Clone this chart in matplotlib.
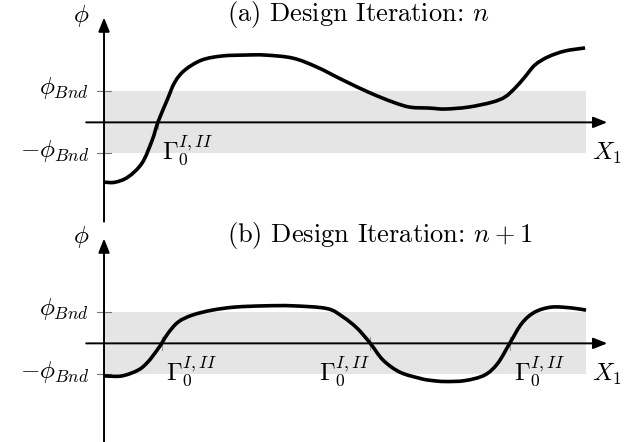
import matplotlib
matplotlib.use('Agg')
import matplotlib.pyplot as plt
from matplotlib.path import Path
from matplotlib.patches import PathPatch
import numpy as np

plt.rcParams['font.family'] = 'cmr10'
plt.rcParams['mathtext.fontset'] = 'cm'

# level-set function phi along X1 (phi in units of phi_Bnd)
x_n = [0.002, 0.023, 0.050, 0.079, 0.100, 0.112, 0.131, 0.147, 0.168, 0.203,
       0.245, 0.293, 0.334, 0.392, 0.442, 0.496, 0.552, 0.600, 0.635, 0.676,
       0.707, 0.755, 0.805, 0.832, 0.853, 0.873, 0.894, 0.921, 0.956, 0.998]
phi_n = [-1.93, -1.93, -1.76, -1.31, -0.57, 0.01, 0.72, 1.30, 1.69, 2.01,
         2.14, 2.17, 2.17, 2.07, 1.78, 1.36, 0.95, 0.65, 0.49, 0.46,
         0.43, 0.49, 0.65, 0.82, 1.11, 1.46, 1.85, 2.11, 2.30, 2.40]

x_n1 = [0.002, 0.037, 0.071, 0.091, 0.110, 0.120, 0.133, 0.154, 0.183, 0.224,
        0.272, 0.334, 0.392, 0.463, 0.496, 0.525, 0.552, 0.579, 0.614, 0.656,
        0.676, 0.707, 0.749, 0.790, 0.817, 0.842, 0.867, 0.894, 0.929, 0.971, 1.0]
phi_n1 = [-1.05, -1.05, -0.86, -0.60, -0.22, 0.01, 0.33, 0.69, 0.91, 1.07,
          1.17, 1.21, 1.21, 1.12, 0.85, 0.49, 0.01, -0.54, -0.93, -1.13,
          -1.19, -1.23, -1.20, -1.02, -0.64, 0.01, 0.65, 1.01, 1.17, 1.14, 1.07]

# zero crossings (Gamma_0^{I,II}) and label alignment
cross_n = [0.112]
cross_n1 = [0.120, 0.552, 0.842]
align_n = ['left']
align_n1 = ['left', 'right', 'left']

titles = [r'(a) Design Iteration: $n$', r'(b) Design Iteration: $n+1$']
bnd = 1.0
FS = 18


def smooth_path(xs, ys):
    # Catmull-Rom through the points, written as cubic Bezier segments
    p = np.column_stack([xs, ys])
    p = np.vstack([p[0], p, p[-1]])
    verts = [p[1]]
    codes = [Path.MOVETO]
    for i in range(1, len(p) - 2):
        c1 = p[i] + (p[i + 1] - p[i - 1]) / 6.0
        c2 = p[i + 1] - (p[i + 2] - p[i]) / 6.0
        verts += [c1, c2, p[i + 1]]
        codes += [Path.CURVE4] * 3
    return Path(verts, codes)


fig = plt.figure(figsize=(6.24, 4.42), dpi=100)
ax_top = fig.add_axes([0, 0.5, 1, 0.5])
ax_bot = fig.add_axes([0, 0, 1, 0.5])

panels = [(ax_top, x_n, phi_n, cross_n, align_n, titles[0]),
          (ax_bot, x_n1, phi_n1, cross_n1, align_n1, titles[1])]

for ax, xs, ys, crosses, aligns, title in panels:
    ax.set_xlim(-0.2158, 1.0788)
    ax.set_ylim(-3.18, 3.945)
    ax.axis('off')

    # tolerance band
    ax.fill_between([0, 1], -bnd, bnd, color='#e5e5e5', lw=0, zorder=0)

    # axes with arrow heads
    arrow = dict(arrowstyle='-|>,head_length=0.7,head_width=0.28',
                 lw=1.4, color='k', shrinkA=0, shrinkB=0, mutation_scale=12)
    ax.annotate('', xy=(1.044, 0), xytext=(-0.037, 0), arrowprops=arrow, zorder=2)
    ax.annotate('', xy=(0, 3.38), xytext=(0, -3.2), arrowprops=arrow, zorder=2)

    # band ticks on phi axis
    for b in (bnd, -bnd):
        ax.plot([-0.015, 0.015], [b, b], color='#777777', lw=0.8, zorder=1)

    ax.add_patch(PathPatch(smooth_path(xs, ys), fc='none', ec='k', lw=2.6,
                           capstyle='butt', zorder=3))

    for c, ha in zip(crosses, aligns):
        ax.plot([c, c], [-0.22, 0.22], color='#999999', lw=0.8, zorder=2)
        dx = 0.008 if ha == 'left' else 0.0
        ax.text(c + dx, -0.9, r'$\Gamma_0^{I,II}$', ha=ha, va='center', fontsize=FS)

    ax.text(-0.047, 3.42, r'$\phi$', ha='center', va='center', fontsize=FS)
    ax.text(-0.031, 1.1, r'$\phi_{Bnd}$', ha='right', va='center', fontsize=FS)
    ax.text(-0.031, -0.93, r'$-\phi_{Bnd}$', ha='right', va='center', fontsize=FS)
    ax.text(1.012, -1.0, r'$X_1$', ha='left', va='center', fontsize=FS)
    ax.text(0.255, 3.47, title, ha='left', va='center', fontsize=19)

fig.savefig('out.png', dpi=100)
